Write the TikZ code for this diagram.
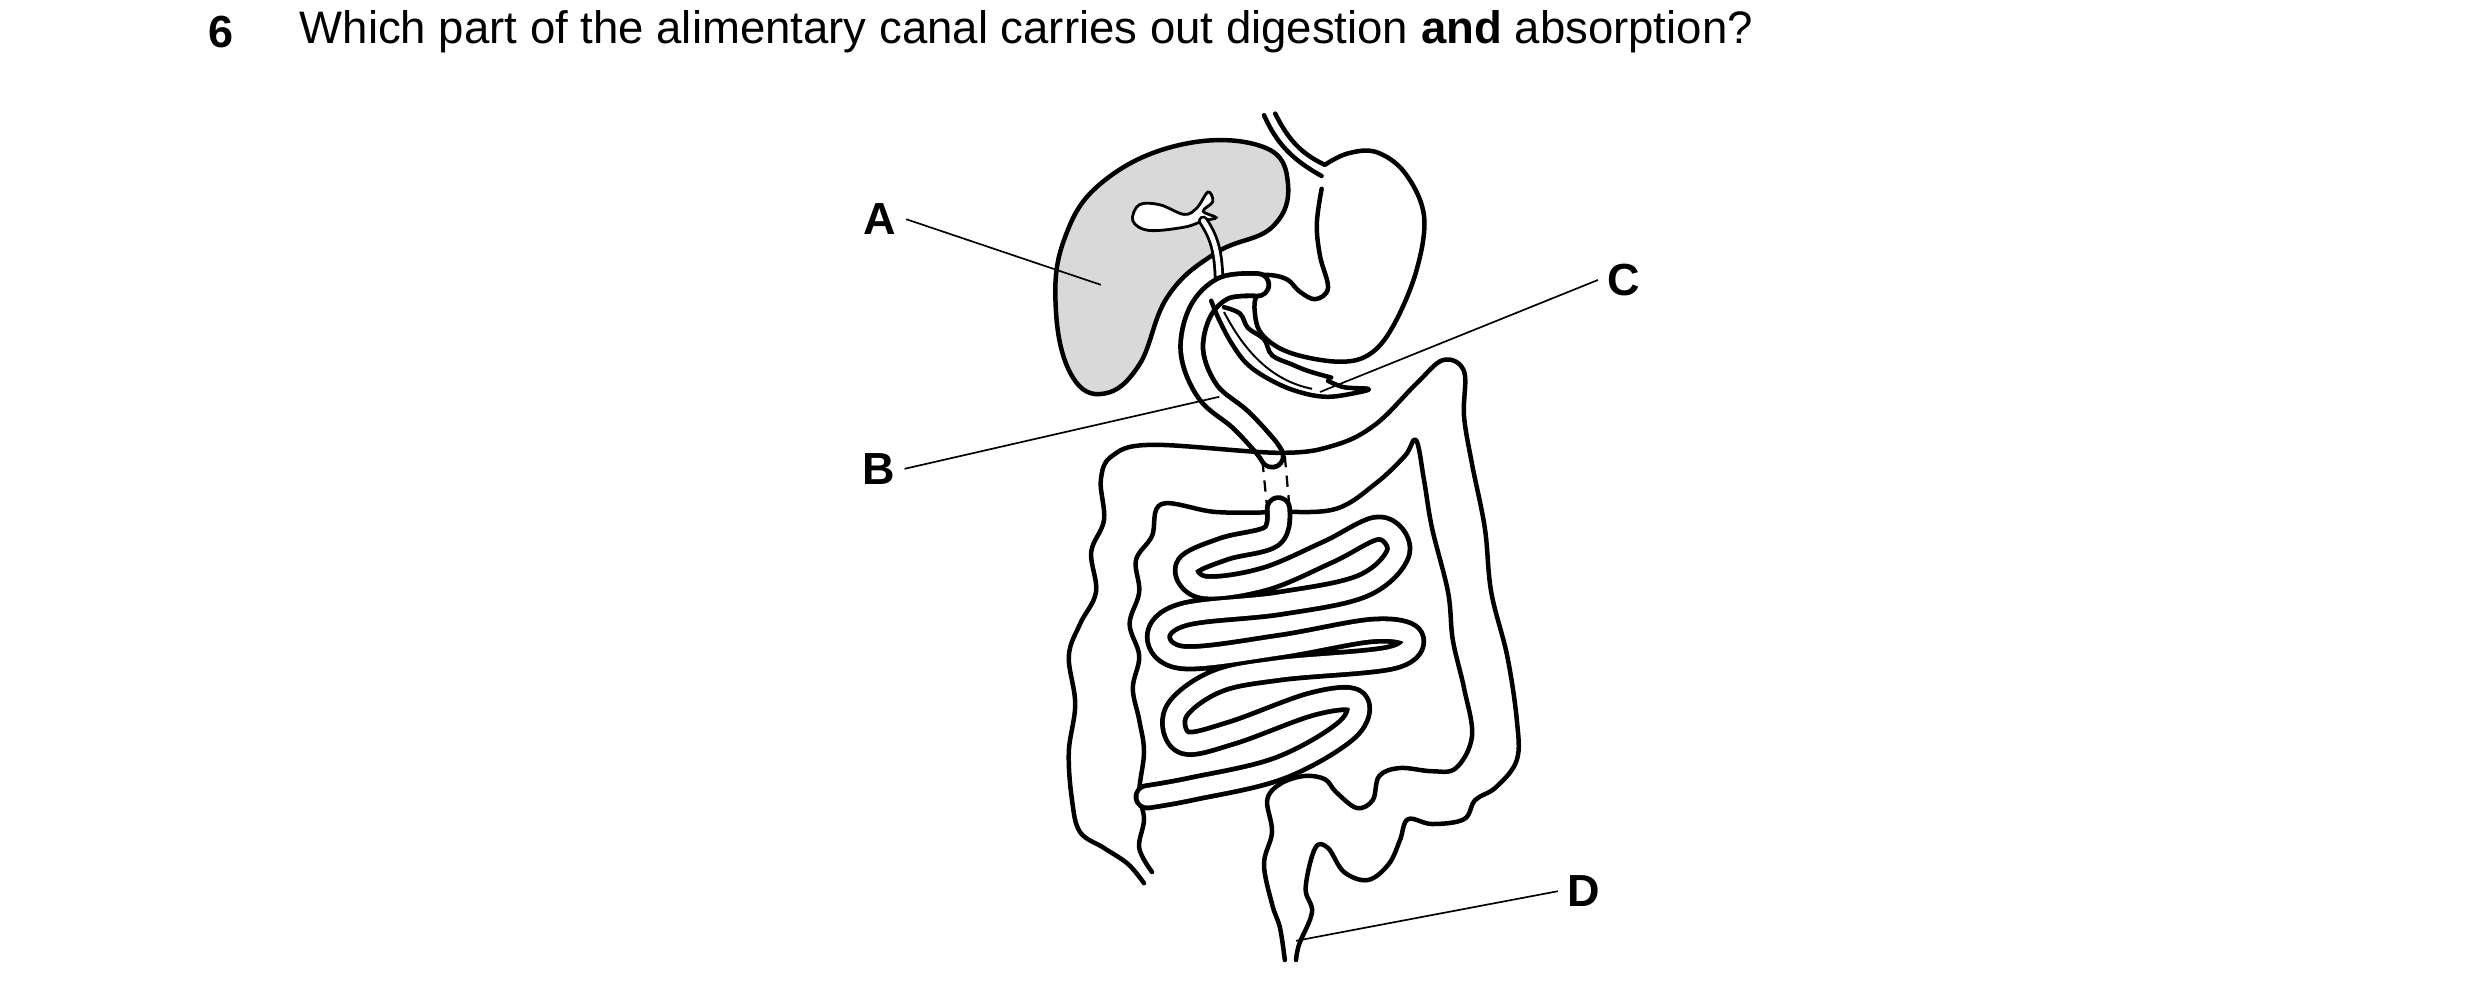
\documentclass[tikz,border=0pt]{standalone}
\usepackage{fontspec}
\setmainfont{Liberation Sans}
\begin{document}
\begin{tikzpicture}[x=0.02cm,y=-0.02cm,
  organ/.style={line width=1.6pt,line join=round,line cap=round},
  lead/.style={line width=0.6pt},
  lab/.style={font=\fontsize{16}{18}\selectfont\bfseries},
  tubeB/.style={line width=0.34cm,line cap=round,line join=round},
  tubeW/.style={white,line width=0.22cm,line cap=round,line join=round}]
\useasboundingbox (0,0) rectangle (1550,619);
\node[anchor=west,lab,inner sep=0pt] (n6) at (130,20) {6};
\node[anchor=west,font=\fontsize{16.2}{18}\selectfont,inner sep=0pt] (q) at (187,20) {Which part of the alimentary canal carries out digestion \textbf{and} absorption?};
% liver
\draw[organ,fill=black!15] plot[smooth cycle,tension=0.7] coordinates {(740,90)(790,92)(805,115)(795,142)(760,158)(730,185)(712,228)(690,246)(670,235)(660,195)(665,150)(690,113)};
% gallbladder
\draw[line width=1pt,fill=white] plot[smooth cycle,tension=0.6] coordinates {(712,128)(725,128)(740,134)(748,130)(755,120)(758,126)(752,132)(760,136)(752,138)(740,142)(718,144)(708,138)};
% bile duct
\draw[black,line width=0.13cm,line cap=round] (752,138) .. controls (760,150) and (762,160) .. (762,182);
\draw[white,line width=0.06cm,line cap=round] (752,138) .. controls (760,150) and (762,160) .. (762,182);
% esophagus
\draw[organ] (790,72) .. controls (798,90) and (808,100) .. (826,110);
\draw[organ] (797,71) .. controls (805,87) and (813,96) .. (828,103);
% stomach
\draw[organ] plot[smooth,tension=0.6] coordinates {(828,103)(842,96)(860,95)(878,108)(890,135)(885,170)(870,205)(855,222)(835,226)(805,220)(788,208)(784,192)(786,183)};
\draw[organ] plot[smooth,tension=0.6] coordinates {(826,118)(823,140)(825,160)(830,180)(822,187)(812,182)(805,175)(795,172)(780,172)};
% duodenum tube
\draw[tubeB] plot[smooth,tension=0.6] coordinates {(786,178)(765,180)(750,195)(745,220)(755,245)(775,262)(790,278)(795,285)};
\draw[tubeW] plot[smooth,tension=0.6] coordinates {(786,178)(765,180)(750,195)(745,220)(755,245)(775,262)(790,278)(795,285)};
% pancreas
\draw[organ] plot[smooth,tension=0.6] coordinates {(757,188)(762,200)(770,215)(780,228)(795,238)(812,245)(830,248)(850,245)(855,243)(840,242)(830,238)};
\draw[organ] plot[smooth,tension=0.6] coordinates {(765,192)(775,196)(780,205)(790,212)(795,222)(808,228)(818,232)(832,236)};
\draw[line width=0.7pt] (765,195) .. controls (778,220) and (795,238) .. (820,243);
% colon
\draw[organ] plot[smooth,tension=0.6] coordinates {(715,552)(705,540)(690,530)(675,520)(670,500)(668,470)(672,440)(668,410)(675,390)(685,370)(682,345)(690,325)(688,300)(695,285)(720,278)(800,283)(835,278)(860,265)(885,240)(902,225)(915,232)(915,260)(920,290)(928,330)(932,370)(942,410)(948,450)(948,475)(935,492)(922,500)(915,512)(895,515)(880,512)(875,525)(868,540)(855,550)(840,545)(830,530)(822,530)(816,555)(820,570)(812,590)(810,600)};
\draw[organ] plot[smooth,tension=0.6] coordinates {(720,545)(712,530)(715,512)(712,495)(715,470)(712,450)(708,430)(712,410)(706,390)(712,370)(710,350)(720,335)(726,315)(760,320)(800,320)(835,318)(860,302)(878,285)(885,275)(890,300)(895,330)(905,370)(908,400)(915,430)(920,460)(910,480)(895,482)(875,480)(862,485)(858,500)(848,505)(835,495)(828,487)(815,485)(800,490)(792,500)(795,520)(790,540)(795,565)(800,580)(803,600)};
% hidden duodenum
\draw[line width=0.8pt,dash pattern=on 4pt off 3pt] (789,288) -- (792,318);
\draw[line width=0.8pt,dash pattern=on 4pt off 3pt] (803,285) -- (806,318);
% small intestine
\def\gut{(799,318)(795,335)(765,343)(742,354)(752,367)(790,362)(830,345)(862,330)(874,345)(852,366)(800,377)(740,384)(724,398)(740,411)(800,404)(858,394)(882,398)(870,411)(800,418)(760,426)(735,445)(740,464)(770,458)(820,440)(847,438)(842,456)(800,480)(745,493)(717,498)}
\draw[tubeB] plot[smooth,tension=0.6] coordinates {\gut};
\draw[tubeW] plot[smooth,tension=0.6] coordinates {\gut};
% labels
\node[lab] (A) at (550,137) {A};
\node[lab] (B) at (549,293) {B};
\node[lab] (C) at (1015,175) {C};
\node[lab] (D) at (990,557) {D};
\coordinate (a) at (688,178);
\coordinate (b) at (762,248);
\coordinate (c) at (825,245);
\coordinate (d) at (810,588);
\draw[lead] (A.east) -- (a);
\draw[lead] (B.east) -- (b);
\draw[lead] (C.west) -- (c);
\draw[lead] (D.west) -- (d);
\end{tikzpicture}
\end{document}
